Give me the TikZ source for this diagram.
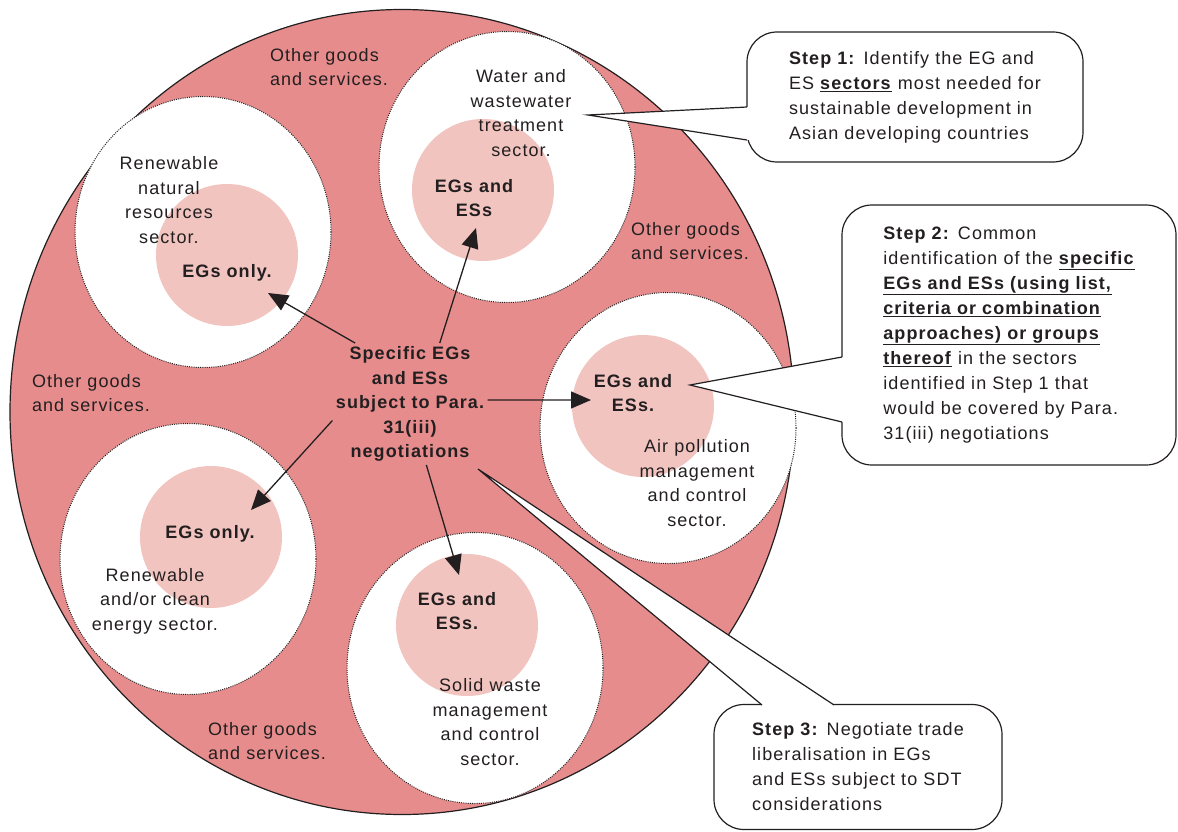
\documentclass[tikz,border=0pt]{standalone}
\usepackage{fontspec}
\setmainfont{Liberation Sans}[LetterSpace=6]
\usetikzlibrary{arrows.meta,shapes.geometric}

\definecolor{ringred}{RGB}{230,140,140}
\definecolor{corepink}{RGB}{242,196,191}
\definecolor{inkgrey}{RGB}{35,31,32}

\tikzset{
  sector/.style={ellipse,draw=inkgrey,dash pattern=on 1pt off 1.2pt,line width=1pt,fill=white,
    minimum width=256pt,minimum height=271pt,inner sep=0pt},
  core/.style={circle,fill=corepink,minimum size=142pt,inner sep=0pt},
  lbl/.style={align=center,text=inkgrey,font=\fontsize{18}{24.5}\selectfont},
  boldlbl/.style={lbl,font=\fontsize{18}{24.5}\selectfont\bfseries},
  otherlbl/.style={lbl,align=left},
  balloon/.style={draw=inkgrey,fill=white,line width=1.2pt,rounded corners=30pt,
    align=left,text=inkgrey,font=\fontsize{18}{25}\selectfont,inner sep=0pt},
  feed/.style={->,>={Triangle[length=20pt,width=17pt]},inkgrey,line width=1.3pt}
}

\begin{document}
\begin{tikzpicture}[x=1pt,y=-1pt]
	\useasboundingbox (0,0) rectangle (1178,832);

	% outer ring
	\node[ellipse,draw=inkgrey,fill=ringred,line width=1.2pt,minimum width=784pt,minimum height=805pt,inner sep=0pt] (ring) at (402,412) {};

	% sectors
	\node[sector] (natural) at (203,232) {};
	\node[sector] (water) at (507,167) {};
	\node[sector] (air) at (668,428) {};
	\node[sector] (energy) at (188,559) {};
	\node[sector] (waste) at (475,668) {};

	\node[core] (core1) at (227,255) {};
	\node[core] (core2) at (483,190) {};
	\node[core] (core3) at (643,406) {};
	\node[core] (core4) at (211,537) {};
	\node[core] (core5) at (467,625) {};

	% sector texts
	\node[lbl] (naturallbl) at (169,200) {Renewable\\natural\\resources\\sector.};
	\node[boldlbl] (egs1) at (227,273) {EGs only.};
	\node[lbl] (waterlbl) at (521,113) {Water and\\wastewater\\treatment\\sector.};
	\node[boldlbl] (egs2) at (474,198) {EGs and\\ESs};
	\node[boldlbl] (egs3) at (633,393) {EGs and\\ESs.};
	\node[lbl] (airlbl) at (697,483) {Air pollution\\management\\and control\\sector.};
	\node[boldlbl] (egs4) at (210,534) {EGs only.};
	\node[lbl] (energylbl) at (155,601) {Renewable\\and/or clean\\energy sector.};
	\node[boldlbl] (egs5) at (457,611) {EGs and\\ESs.};
	\node[lbl] (wastelbl) at (490,722) {Solid waste\\management\\and control\\sector.};

	\node[otherlbl] (other1) at (329,67) {Other goods\\and services.};
	\node[otherlbl] (other2) at (91,393) {Other goods\\and services.};
	\node[otherlbl] (other3) at (690,241) {Other goods\\and services.};
	\node[otherlbl] (other4) at (267,741) {Other goods\\and services.};

	% centre
	\node[boldlbl] (centre) at (410,404) {Specific EGs\\and ESs\\subject to Para.\\31(iii)\\negotiations};

	\coordinate (tip1) at (268,293);
	\coordinate (tip2) at (476,228);
	\coordinate (tip3) at (591,400);
	\coordinate (tip4) at (251,510);
	\coordinate (tip5) at (459,575);

	\path[feed]
	(centre.132) edge (tip1)
	(centre.64) edge (tip2)
	(centre.3) edge (tip3)
	(centre.192) edge (tip4)
	(centre.285) edge (tip5);

	% steps
	\node[balloon,minimum width=336pt,minimum height=130pt] (step1) at (915,97)
	  {\textbf{Step 1:} Identify the EG and\\ES \underline{\textbf{sectors}} most needed for\\sustainable development in\\Asian developing countries};
	\node[balloon,minimum width=334pt,minimum height=260pt] (step2) at (1009,335)
	  {\textbf{Step 2:} Common\\identification of the \underline{\textbf{specific}}\\\underline{\textbf{EGs and ESs (using list,}}\\\underline{\textbf{criteria or combination}}\\\underline{\textbf{approaches) or groups}}\\\underline{\textbf{thereof}} in the sectors\\identified in Step 1 that\\would be covered by Para.\\31(iii) negotiations};
	\node[balloon,minimum width=288pt,minimum height=125pt] (step3) at (858,767)
	  {\textbf{Step 3:} Negotiate trade\\liberalisation in EGs\\and ESs subject to SDT\\considerations};

	\coordinate (point1) at (588,115);
	\coordinate (point2) at (690,385);
	\coordinate (point3) at (478,469);

	\fill[white] (747,107) -- (point1) -- (747,140) -- ++(2,0) -- ++(0,-33) -- cycle;
	\draw[inkgrey,line width=1.2pt] (747,107) -- (point1) -- (747,140);
	\fill[white] (842,357) -- (point2) -- (842,422) -- ++(2,0) -- ++(0,-65) -- cycle;
	\draw[inkgrey,line width=1.2pt] (842,357) -- (point2) -- (842,422);
	\fill[white] (762,705) -- (point3) -- (834,705) -- ++(0,2) -- ++(-72,0) -- cycle;
	\draw[inkgrey,line width=1.2pt] (762,705) -- (point3) -- (834,705);

\end{tikzpicture}
\end{document}
